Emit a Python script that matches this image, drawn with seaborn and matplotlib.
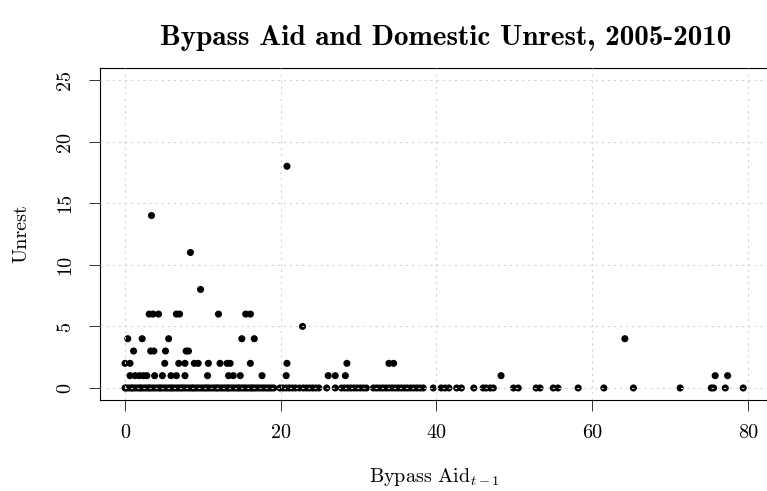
import numpy as np
import pandas as pd
import matplotlib
matplotlib.use("Agg")
import matplotlib.pyplot as plt
import seaborn as sns

# ---- data ----
aid_y0 = [0.0, 0.2, 0.5, 0.8, 1.0, 1.3, 1.6, 1.9, 2.1, 2.4, 2.7, 3.0, 3.2, 3.5, 3.8,
          4.1, 4.4, 4.6, 4.9, 5.2, 5.5, 5.8, 6.0, 6.3, 6.6, 6.9, 7.2, 7.4, 7.7, 8.0,
          8.3, 8.6, 8.8, 9.1, 9.4, 9.7, 10.0, 10.3, 10.5, 10.8, 11.1, 11.4, 11.7,
          11.9, 12.2, 12.5, 12.8, 13.1, 13.3, 13.6, 13.9, 14.2, 14.5, 14.7, 15.0,
          15.3, 15.6, 15.9, 16.2, 16.4, 16.7, 17.0, 17.3, 17.6, 17.9, 18.2, 18.5,
          18.8, 19.1, 19.9, 20.3, 20.7, 21.1, 21.5, 21.9, 22.4, 22.9, 23.3, 23.7,
          24.1, 24.5, 24.9, 25.9, 27.0, 27.8, 28.2, 28.6, 29.0, 29.4, 29.8, 30.2,
          30.6, 31.0, 31.9, 32.3, 32.7, 33.1, 33.5, 33.9, 34.3, 34.7, 35.1, 35.5,
          35.9, 36.3, 36.7, 37.1, 37.5, 37.9, 38.3, 39.6, 40.6, 41.1, 41.6, 42.6,
          43.2, 44.8, 46.0, 46.4, 46.9, 47.3, 49.9, 50.5, 52.8, 53.3, 55.0, 55.6,
          58.2, 61.5, 65.3, 71.3, 75.3, 75.6, 77.1, 79.4]
aid_y1 = [0.64, 1.29, 1.85, 2.36, 2.8, 3.8, 4.8, 5.9, 6.6, 7.7, 10.6, 13.3, 13.9,
          14.8, 17.6, 20.7, 26.1, 27.0, 28.3, 48.3, 75.8, 77.4]
aid_y2 = [0.0, 0.64, 5.1, 6.9, 7.7, 8.9, 9.4, 10.7, 12.2, 13.1, 13.5, 16.1, 20.8,
          28.5, 33.9, 34.5]
aid_y3 = [1.1, 3.3, 3.7, 5.2, 7.85, 8.15]
aid_y4 = [0.35, 2.2, 5.6, 15.0, 16.6, 64.2]
aid_y5 = [22.8]
aid_y6 = [3.1, 3.6, 4.3, 6.6, 7.0, 12.0, 15.5, 16.1]
aid_y8 = [9.7]
aid_y11 = [8.4]
aid_y14 = [3.4]
aid_y18 = [20.8]

groups = {0: aid_y0, 1: aid_y1, 2: aid_y2, 3: aid_y3, 4: aid_y4, 5: aid_y5,
          6: aid_y6, 8: aid_y8, 11: aid_y11, 14: aid_y14, 18: aid_y18}

xticks = [0, 20, 40, 60, 80]
yticks = [0, 5, 10, 15, 20, 25]

title = "Bypass Aid and Domestic Unrest, 2005-2010"
xlabel = r"Bypass Aid$_{t-1}$"
ylabel = "Unrest"

rows = []
for u, xs in groups.items():
    for x in xs:
        rows.append({"aid": x, "unrest": u})
df = pd.DataFrame(rows)

# ---- style ----
sns.set_style("white")
plt.rcParams["font.family"] = ["cmr10", "DejaVu Serif"]
plt.rcParams["mathtext.fontset"] = "cm"
plt.rcParams["axes.formatter.use_mathtext"] = True
plt.rcParams["lines.scale_dashes"] = False
plt.rcParams["text.color"] = "black"
plt.rcParams["axes.labelcolor"] = "black"
plt.rcParams["xtick.color"] = "black"
plt.rcParams["ytick.color"] = "black"

fig = plt.figure(figsize=(7.67, 4.91), dpi=100)
ax = fig.add_axes([100.2 / 767, (491 - 400.3) / 491,
                   (768.5 - 100.2) / 767, (400.3 - 67.7) / 491])

sns.scatterplot(data=df, x="aid", y="unrest", ax=ax, color="black",
                s=26, linewidth=0, edgecolor="none", zorder=1)

ax.set_xlim(-3.19, 82.65)
ax.set_ylim(-1.0, 26.0)
ax.set_xticks(xticks)
ax.set_yticks(yticks)
ax.set_xticklabels([str(t) for t in xticks])
ax.set_yticklabels([str(t) for t in yticks])

ax.set_axisbelow(False)
ax.grid(True, color="#D3D3D3", linestyle=(0, (1.6, 2.8)), linewidth=0.8, zorder=2)

for sp in ax.spines.values():
    sp.set_visible(True)
    sp.set_color("black")
    sp.set_linewidth(0.8)

ax.tick_params(axis="both", which="major", direction="out", length=8, width=0.7,
               color="#333333", labelcolor="black", labelsize=14.5, bottom=True,
               left=True, top=False, right=False)
ax.tick_params(axis="x", pad=9)
ax.tick_params(axis="y", pad=11)
for lab in ax.get_yticklabels():
    lab.set_rotation(90)
    lab.set_va("center")
    lab.set_ha("right")

ax.set_xlabel(xlabel, fontsize=14.5, color="black")
ax.set_ylabel(ylabel, fontsize=14.5, color="black")
ax.xaxis.set_label_coords(0.5, -0.232)
ax.yaxis.set_label_coords(-0.118, 0.5)
ax.xaxis.label.set_va("center")
ax.yaxis.label.set_va("center")

fig.text(446 / 767, 1 - 38 / 491, title, ha="center", va="center",
         fontsize=21, color="black", family=["cmb10", "DejaVu Serif"])

fig.savefig("out.png", dpi=100)
